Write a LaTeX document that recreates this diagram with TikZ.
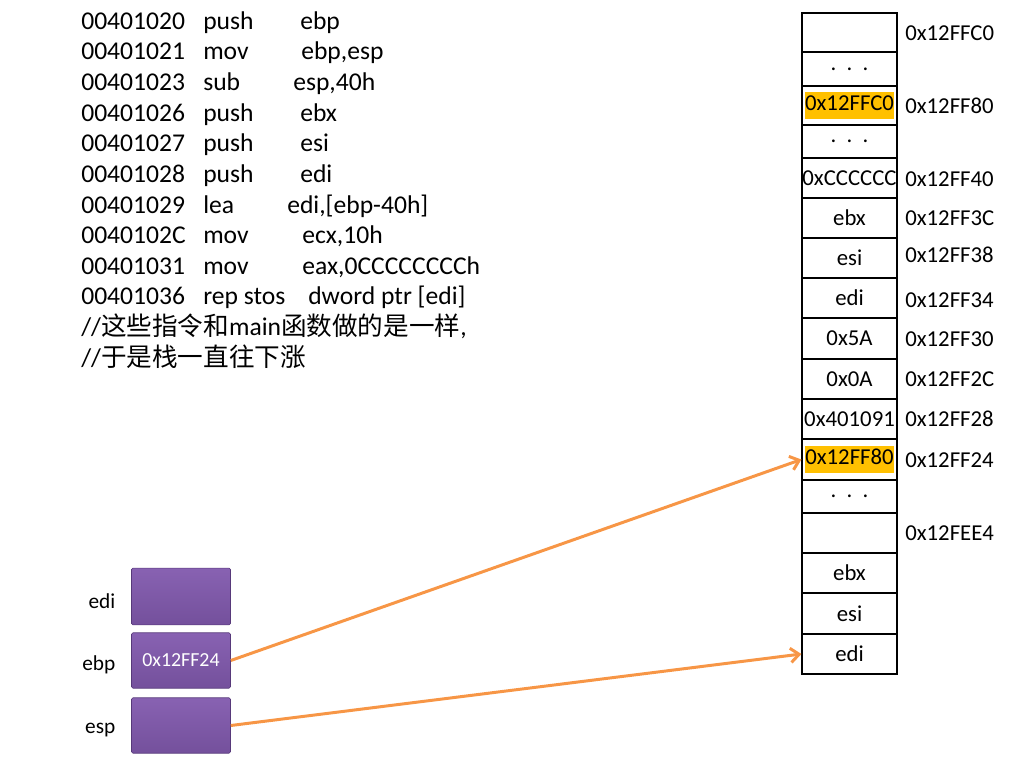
\documentclass[tikz,border=0pt]{standalone}
\usepackage{fontspec}
\setmainfont{Carlito}
\newfontfamily\cjk{Noto Sans CJK SC}
\usetikzlibrary{positioning,arrows.meta}
\definecolor{hlorange}{HTML}{FFC000}
\definecolor{ptrorange}{HTML}{F79646}
\definecolor{regtop}{HTML}{8862B2}
\definecolor{regbot}{HTML}{74509C}
\definecolor{regline}{HTML}{57397A}
\newcommand{\hl}[1]{{\setlength{\fboxsep}{0.4pt}\colorbox{hlorange}{\strut#1}}}
\newcommand{\stackdots}{.\hspace{0.45em}.\hspace{0.45em}.}
\tikzset{
  code/.style={font=\fontsize{18}{20}\selectfont,inner sep=0,anchor=base west},
  cell/.style={draw,line width=0.8pt,minimum width=66.8pt,inner sep=0,
    font=\fontsize{16}{18}\selectfont},
  addr/.style={font=\fontsize{16}{18}\selectfont,inner sep=0,anchor=west},
  reg/.style={draw=regline,top color=regtop,bottom color=regbot,
    rounded corners=1pt,minimum width=69.6pt,minimum height=39pt,
    text=white,font=\fontsize{14}{16}\selectfont},
  reglabel/.style={font=\fontsize{15}{17}\selectfont,inner sep=0,yshift=-3pt},
  ptr/.style={ptrorange,line width=2.1pt,-{Straight Barb[length=6pt,width=10pt]}}
}
\begin{document}
\begin{tikzpicture}[x=0.703125pt,y=-0.703125pt]
\useasboundingbox (0,0) rectangle (1024,768);
%code
\foreach \ad/\mn/\op/\ox [count=\i from 0] in {
  00401020/push/ebp/300, 00401021/mov/{ebp,esp}/301,
  00401023/sub/{esp,40h}/293, 00401026/push/ebx/300,
  00401027/push/esi/300, 00401028/push/edi/300,
  00401029/lea/{edi,[ebp-40h]}/287, 0040102C/mov/{ecx,10h}/302,
  00401031/mov/{eax,0CCCCCCCCh}/302, 00401036/rep stos/{dword ptr [edi]}/308}{
  \node[code] (ad\i) at (81,29.3+30.63*\i) {\ad};
  \node[code] (mn\i) at (203,29.3+30.63*\i) {\mn};
  \node[code] (op\i) at (\ox,29.3+30.63*\i) {\op};
}
\node[code] (cm1) at (81,335.6) {//{\cjk 这些指令和}main{\cjk 函数做的是一样},};
\node[code] (cm2) at (81,366.2) {//{\cjk 于是栈一直往下涨}};
%stack
\foreach \n/\t/\b/\v in {
  1/13/52/{}, 2/52/86/\stackdots, 3/86/125/\hl{0x12FFC0}, 4/125/158/\stackdots,
  5/158/198/0xCCCCCC, 6/198/238/ebx, 7/238/278/esi, 8/278/318/edi,
  9/318/359/0x5A, 10/359/399/0x0A, 11/399/439/0x401091,
  12/439/480/\hl{0x12FF80}, 13/480/513/\stackdots, 14/513/553/{},
  15/553/593/ebx, 16/593/634/esi, 17/634/674/edi}{
  \node[cell,minimum height={(\b-\t)*0.703125pt}] (c\n) at (849.5,{(\t+\b)/2}) {\v};
}
\foreach \ly/\lt [count=\k] in {33/0x12FFC0, 106/0x12FF80, 179/0x12FF40,
  218/0x12FF3C, 255/0x12FF38, 300/0x12FF34, 339/0x12FF30, 379/0x12FF2C,
  419/0x12FF28, 460/0x12FF24, 533/0x12FEE4}{
  \node[addr] (l\k) at (905,\ly) {\lt};
}
%registers
\node[reg,minimum height=40pt] (rEdi) at (181,596.5) {};
\node[reg] (rEbp) at (181,660.5) {0x12FF24};
\node[reg] (rEsp) at (181,725.5) {};
\node[reglabel,left=11pt of rEdi] (nEdi) {edi};
\node[reglabel,left=11pt of rEbp] (nEbp) {ebp};
\node[reglabel,left=11pt of rEsp] (nEsp) {esp};
\draw[ptr] (rEbp.east) -- (c12.west);
\draw[ptr] (rEsp.east) -- (c17.west);
\end{tikzpicture}
\end{document}
